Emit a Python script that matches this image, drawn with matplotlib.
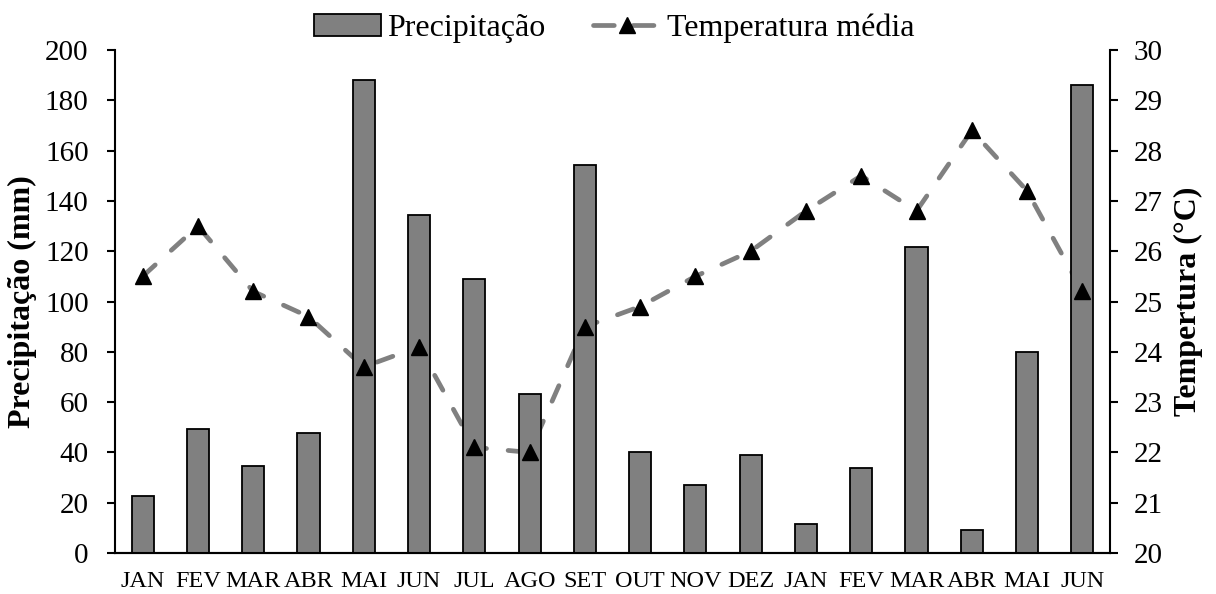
import matplotlib
matplotlib.use("Agg")
import matplotlib.pyplot as plt
import numpy as np

plt.rcParams["font.family"] = ["Liberation Serif", "DejaVu Serif"]

months = ["JAN", "FEV", "MAR", "ABR", "MAI", "JUN", "JUL", "AGO", "SET",
          "OUT", "NOV", "DEZ", "JAN", "FEV", "MAR", "ABR", "MAI", "JUN"]
precip = [22.5, 49.3, 34.6, 47.7, 188.0, 134.2, 109.0, 63.2, 154.3,
          40.2, 27.0, 39.0, 11.5, 33.8, 121.7, 9.2, 80.0, 186.2]
temp = [25.5, 26.5, 25.2, 24.7, 23.7, 24.1, 22.1, 22.0, 24.5,
        24.9, 25.5, 26.0, 26.8, 27.5, 26.8, 28.4, 27.2, 25.2]

x = np.arange(len(months))
gray = "#808080"

fig = plt.figure(figsize=(12.16, 5.94), dpi=100)
ax = fig.add_axes([115 / 1216, 1 - 553 / 594, (1110 - 115) / 1216, (553 - 50) / 594])
ax2 = ax.twinx()
# precipitation axes on top so bars hide the dashed line (as in the original)
ax.set_zorder(ax2.get_zorder() + 1)
ax.patch.set_visible(False)

line, = ax2.plot(x, temp, color=gray, linestyle=(0, (3.6, 4.6)), linewidth=3.4,
                 dash_capstyle="round", zorder=1)
bars = ax.bar(x, precip, width=0.4, color=gray, edgecolor="black", linewidth=1.3,
              zorder=2)
ax.plot(x, temp, transform=ax2.transData, linestyle="none", marker="^",
        markersize=11, color="black", zorder=3)

ax.set_xlim(-0.5, len(months) - 0.5)
ax.set_ylim(0, 200)
ax.set_yticks(range(0, 201, 20))
ax2.set_ylim(20, 30)
ax2.set_yticks(range(20, 31, 1))

ax.set_xticks(x)
ax.set_xticklabels(months, fontsize=17.5)
ax.tick_params(axis="x", length=0, pad=13)
ax.tick_params(axis="y", labelsize=21, length=6, width=1.5, direction="out", pad=13)
ax2.tick_params(axis="y", labelsize=21, length=6, width=1.5, direction="out", pad=11)

for a in (ax, ax2):
    a.spines["top"].set_visible(False)
    a.spines["bottom"].set_linewidth(1.5)
ax.spines["right"].set_visible(False)
ax2.spines["left"].set_visible(False)
ax.spines["left"].set_linewidth(1.5)
ax2.spines["right"].set_linewidth(1.5)

ax.set_ylabel("Precipitação (mm)", fontsize=23, fontweight="bold", labelpad=6)
ax2.set_ylabel("Tempertura (°C)", fontsize=23, fontweight="bold", labelpad=8)

legend_line = plt.Line2D([], [], color=gray, linewidth=3.4, linestyle=(0, (4.4, 4.0)),
                         dash_capstyle="round", marker="^", markersize=11,
                         markerfacecolor="black", markeredgecolor="black")
fig.legend([bars, legend_line], ["Precipitação", "Temperatura média"],
           loc="upper center", bbox_to_anchor=(0.505, 1.025), ncol=2, frameon=False,
           fontsize=23, handlelength=2.1, columnspacing=1.5, handletextpad=0.2)

fig.savefig("out.png", dpi=100)
